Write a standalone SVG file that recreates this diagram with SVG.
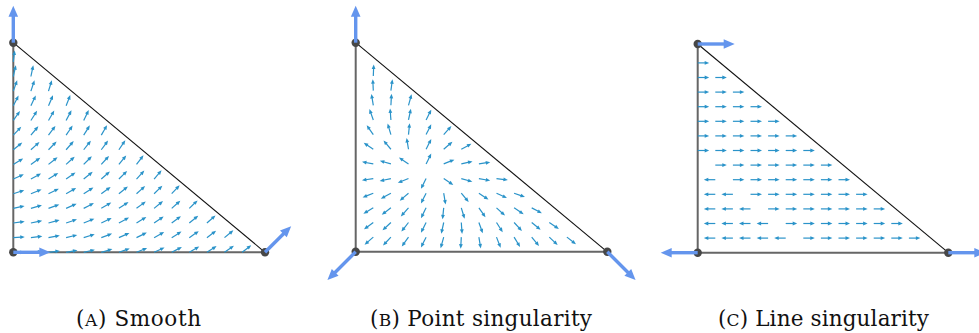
<svg xmlns="http://www.w3.org/2000/svg" width="979" height="333" viewBox="0 0 979 333">
<style>
.leg{stroke:#666;stroke-width:2;fill:none}
.hyp{stroke:#111;stroke-width:1.1;fill:none}
.q path{fill:none;stroke:none;marker-start:url(#q)}
.dot{fill:#474747}
.lbl{font-family:"DejaVu Serif","Liberation Serif",serif;font-size:21.5px;fill:#111;text-anchor:middle}
.sc{font-size:17px}
</style>
<defs>
<marker id="q" markerUnits="userSpaceOnUse" markerWidth="12" markerHeight="6" refX="0" refY="3" orient="auto" overflow="visible">
<path d="M0 3H8" stroke="#2a93c9" stroke-width="1.2"/>
<path d="M7 1.1L11.5 3L7 4.9z" fill="#2a93c9"/>
</marker>
<g id="big"><path d="M0 0H27" stroke="#6495ed" stroke-width="3.4"/><path d="M26 -4.8L37 0L26 4.8z" fill="#6495ed"/></g>
<g id="big2"><path d="M0 0H30" stroke="#6495ed" stroke-width="3.4"/><path d="M29 -4.8L40 0L29 4.8z" fill="#6495ed"/></g>
</defs>

<g id="panel-a">
<path class="leg" d="M13.3 42.7V252.3H265"/>
<path class="hyp" d="M13.3 42.7L265 252.3"/>
<g class="q" transform="translate(13.3,252.3)">
<g><path d="M0 0l100 0"/><path d="M17.6 0l100 -6"/><path d="M35.2 0l100 -12"/><path d="M52.8 0l100 -17"/><path d="M70.4 0l100 -23"/><path d="M88 0l100 -29"/><path d="M105.6 0l100 -35"/><path d="M123.2 0l100 -41"/><path d="M140.8 0l100 -46"/><path d="M158.4 0l100 -52"/><path d="M176 0l100 -58"/><path d="M193.6 0l100 -64"/><path d="M211.2 0l100 -70"/><path d="M228.8 0l100 -76"/></g>
<g transform="translate(0,-14.65)"><path d="M0 0l93 -6"/><path d="M17.6 0l93 -12"/><path d="M35.2 0l93 -17"/><path d="M52.8 0l93 -23"/><path d="M70.4 0l93 -29"/><path d="M88 0l93 -35"/><path d="M105.6 0l93 -41"/><path d="M123.2 0l93 -46"/><path d="M140.8 0l93 -52"/><path d="M158.4 0l93 -58"/><path d="M176 0l93 -64"/><path d="M193.6 0l93 -70"/><path d="M211.2 0l93 -76"/></g>
<g transform="translate(0,-29.3)"><path d="M0 0l86 -12"/><path d="M17.6 0l86 -17"/><path d="M35.2 0l86 -23"/><path d="M52.8 0l86 -29"/><path d="M70.4 0l86 -35"/><path d="M88 0l86 -41"/><path d="M105.6 0l86 -46"/><path d="M123.2 0l86 -52"/><path d="M140.8 0l86 -58"/><path d="M158.4 0l86 -64"/><path d="M176 0l86 -70"/><path d="M193.6 0l86 -76"/></g>
<g transform="translate(0,-43.95)"><path d="M0 0l79 -17"/><path d="M17.6 0l79 -23"/><path d="M35.2 0l79 -29"/><path d="M52.8 0l79 -35"/><path d="M70.4 0l79 -41"/><path d="M88 0l79 -46"/><path d="M105.6 0l79 -52"/><path d="M123.2 0l79 -58"/><path d="M140.8 0l79 -64"/><path d="M158.4 0l79 -70"/><path d="M176 0l79 -76"/></g>
<g transform="translate(0,-58.6)"><path d="M0 0l72 -23"/><path d="M17.6 0l72 -29"/><path d="M35.2 0l72 -35"/><path d="M52.8 0l72 -41"/><path d="M70.4 0l72 -46"/><path d="M88 0l72 -52"/><path d="M105.6 0l72 -58"/><path d="M123.2 0l72 -64"/><path d="M140.8 0l72 -70"/><path d="M158.4 0l72 -76"/></g>
<g transform="translate(0,-73.25)"><path d="M0 0l65 -29"/><path d="M17.6 0l65 -35"/><path d="M35.2 0l65 -41"/><path d="M52.8 0l65 -46"/><path d="M70.4 0l65 -52"/><path d="M88 0l65 -58"/><path d="M105.6 0l65 -64"/><path d="M123.2 0l65 -70"/><path d="M140.8 0l65 -76"/></g>
<g transform="translate(0,-87.9)"><path d="M0 0l58 -35"/><path d="M17.6 0l58 -41"/><path d="M35.2 0l58 -46"/><path d="M52.8 0l58 -52"/><path d="M70.4 0l58 -58"/><path d="M88 0l58 -64"/><path d="M105.6 0l58 -70"/><path d="M123.2 0l58 -76"/></g>
<g transform="translate(0,-102.55)"><path d="M0 0l51 -41"/><path d="M17.6 0l51 -46"/><path d="M35.2 0l51 -52"/><path d="M52.8 0l51 -58"/><path d="M70.4 0l51 -64"/><path d="M88 0l51 -70"/><path d="M105.6 0l51 -76"/></g>
<g transform="translate(0,-117.2)"><path d="M0 0l44 -46"/><path d="M17.6 0l44 -52"/><path d="M35.2 0l44 -58"/><path d="M52.8 0l44 -64"/><path d="M70.4 0l44 -70"/><path d="M88 0l44 -76"/></g>
<g transform="translate(0,-131.85)"><path d="M0 0l37 -52"/><path d="M17.6 0l37 -58"/><path d="M35.2 0l37 -64"/><path d="M52.8 0l37 -70"/><path d="M70.4 0l37 -76"/></g>
<g transform="translate(0,-146.5)"><path d="M0 0l30 -58"/><path d="M17.6 0l30 -64"/><path d="M35.2 0l30 -70"/><path d="M52.8 0l30 -76"/></g>
<g transform="translate(0,-161.15)"><path d="M0 0l23 -64"/><path d="M17.6 0l23 -70"/><path d="M35.2 0l23 -76"/></g>
<g transform="translate(0,-175.8)"><path d="M0 0l16 -70"/><path d="M17.6 0l16 -76"/></g>
<g transform="translate(0,-190.45)"><path d="M0 0l9 -76"/></g>
</g>
<g id="a-vertex-origin"><circle class="dot" cx="13.3" cy="252.3" r="4.2"/><use href="#big" transform="translate(13.3,252.3)"/></g>
<g id="a-vertex-top"><circle class="dot" cx="13.3" cy="42.7" r="4.2"/><use href="#big" transform="translate(13.3,42.7) rotate(-90)"/></g>
<g id="a-vertex-right"><circle class="dot" cx="265" cy="252.3" r="4.2"/><use href="#big" transform="translate(265,252.3) rotate(-45)"/></g>
</g>

<g id="panel-b">
<path class="leg" d="M355.7 42.7V251.8H607.3"/>
<path class="hyp" d="M355.7 42.7L607.3 251.8"/>
<g class="q" transform="translate(355.7,251.8)">
<g transform="translate(0,-14.65)"><path d="M17.6 0l-21 18"/><path d="M35.2 0l-17 18"/><path d="M52.8 0l-13 18"/><path d="M70.4 0l-9 18"/><path d="M88 0l-5 18"/><path d="M105.6 0l-1 18"/><path d="M123.2 0l3 18"/><path d="M140.8 0l7 18"/><path d="M158.4 0l11 18"/><path d="M176 0l15 18"/><path d="M193.6 0l19 18"/><path d="M211.2 0l23 18"/></g>
<g transform="translate(0,-29.3)"><path d="M17.6 0l-19 14"/><path d="M35.2 0l-15 14"/><path d="M52.8 0l-11 14"/><path d="M70.4 0l-7 14"/><path d="M88 0l-3 14"/><path d="M105.6 0l1 14"/><path d="M123.2 0l5 14"/><path d="M140.8 0l9 14"/><path d="M158.4 0l13 14"/><path d="M176 0l17 14"/><path d="M193.6 0l21 14"/></g>
<g transform="translate(0,-43.95)"><path d="M17.6 0l-17 10"/><path d="M35.2 0l-13 10"/><path d="M52.8 0l-9 10"/><path d="M70.4 0l-5 10"/><path d="M88 0l-1 10"/><path d="M105.6 0l3 10"/><path d="M123.2 0l7 10"/><path d="M140.8 0l11 10"/><path d="M158.4 0l15 10"/><path d="M176 0l19 10"/></g>
<g transform="translate(0,-58.6)"><path d="M17.6 0l-15 6"/><path d="M35.2 0l-11 6"/><path d="M52.8 0l-7 6"/><path d="M70.4 0l-3 6"/><path d="M88 0l1 6"/><path d="M105.6 0l5 6"/><path d="M123.2 0l9 6"/><path d="M140.8 0l13 6"/><path d="M158.4 0l17 6"/></g>
<g transform="translate(0,-73.25)"><path d="M17.6 0l-13 2"/><path d="M35.2 0l-9 2"/><path d="M52.8 0l-5 2"/><path d="M70.4 0l-1 2"/><path d="M88 0l3 2"/><path d="M105.6 0l7 2"/><path d="M123.2 0l11 2"/><path d="M140.8 0l15 2"/></g>
<g transform="translate(0,-87.9)"><path d="M17.6 0l-11 -2"/><path d="M35.2 0l-7 -2"/><path d="M52.8 0l-3 -2"/><path d="M70.4 0l1 -2"/><path d="M88 0l5 -2"/><path d="M105.6 0l9 -2"/><path d="M123.2 0l13 -2"/></g>
<g transform="translate(0,-102.55)"><path d="M17.6 0l-9 -6"/><path d="M35.2 0l-5 -6"/><path d="M52.8 0l-1 -6"/><path d="M70.4 0l3 -6"/><path d="M88 0l7 -6"/><path d="M105.6 0l11 -6"/></g>
<g transform="translate(0,-117.2)"><path d="M17.6 0l-7 -10"/><path d="M35.2 0l-3 -10"/><path d="M52.8 0l1 -10"/><path d="M70.4 0l5 -10"/><path d="M88 0l9 -10"/></g>
<g transform="translate(0,-131.85)"><path d="M17.6 0l-5 -14"/><path d="M35.2 0l-1 -14"/><path d="M52.8 0l3 -14"/><path d="M70.4 0l7 -14"/></g>
<g transform="translate(0,-146.5)"><path d="M17.6 0l-3 -18"/><path d="M35.2 0l1 -18"/><path d="M52.8 0l5 -18"/></g>
<g transform="translate(0,-161.15)"><path d="M17.6 0l-1 -22"/><path d="M35.2 0l3 -22"/></g>
<g transform="translate(0,-175.8)"><path d="M17.6 0l1 -26"/></g>
</g>
<g id="b-vertex-origin"><circle class="dot" cx="355.7" cy="251.8" r="4.2"/><use href="#big2" transform="translate(355.7,251.8) rotate(135)"/></g>
<g id="b-vertex-top"><circle class="dot" cx="355.7" cy="42.7" r="4.2"/><use href="#big" transform="translate(355.7,42.7) rotate(-90)"/></g>
<g id="b-vertex-right"><circle class="dot" cx="607.3" cy="251.8" r="4.2"/><use href="#big2" transform="translate(607.3,251.8) rotate(45)"/></g>
</g>

<g id="panel-c">
<path class="leg" d="M697.7 44V252.7H948.3"/>
<path class="hyp" d="M697.7 44L948.3 252.7"/>
<g class="q" transform="translate(697.7,252.7)">
<g transform="translate(0,-14.6)"><path d="M17.6 0l-1 0"/><path d="M35.2 0l-1 0"/><path d="M52.8 0l-1 0"/><path d="M70.4 0l-1 0"/><path d="M88 0l-1 0"/><path d="M105.6 0l1 0"/><path d="M123.2 0l1 0"/><path d="M140.8 0l1 0"/><path d="M158.4 0l1 0"/><path d="M176 0l1 0"/><path d="M193.6 0l1 0"/><path d="M211.2 0l1 0"/></g>
<g transform="translate(0,-29.2)"><path d="M17.6 0l-1 0"/><path d="M35.2 0l-1 0"/><path d="M52.8 0l-1 0"/><path d="M70.4 0l-1 0"/><path d="M88 0l1 0"/><path d="M105.6 0l1 0"/><path d="M123.2 0l1 0"/><path d="M140.8 0l1 0"/><path d="M158.4 0l1 0"/><path d="M176 0l1 0"/><path d="M193.6 0l1 0"/></g>
<g transform="translate(0,-43.8)"><path d="M17.6 0l-1 0"/><path d="M35.2 0l-1 0"/><path d="M52.8 0l-1 0"/><path d="M70.4 0l1 0"/><path d="M88 0l1 0"/><path d="M105.6 0l1 0"/><path d="M123.2 0l1 0"/><path d="M140.8 0l1 0"/><path d="M158.4 0l1 0"/><path d="M176 0l1 0"/></g>
<g transform="translate(0,-58.4)"><path d="M17.6 0l-1 0"/><path d="M35.2 0l-1 0"/><path d="M52.8 0l1 0"/><path d="M70.4 0l1 0"/><path d="M88 0l1 0"/><path d="M105.6 0l1 0"/><path d="M123.2 0l1 0"/><path d="M140.8 0l1 0"/><path d="M158.4 0l1 0"/></g>
<g transform="translate(0,-73)"><path d="M17.6 0l-1 0"/><path d="M35.2 0l1 0"/><path d="M52.8 0l1 0"/><path d="M70.4 0l1 0"/><path d="M88 0l1 0"/><path d="M105.6 0l1 0"/><path d="M123.2 0l1 0"/><path d="M140.8 0l1 0"/></g>
<g transform="translate(0,-87.6)"><path d="M17.6 0l1 0"/><path d="M35.2 0l1 0"/><path d="M52.8 0l1 0"/><path d="M70.4 0l1 0"/><path d="M88 0l1 0"/><path d="M105.6 0l1 0"/><path d="M123.2 0l1 0"/></g>
<g transform="translate(0,-102.2)"><path d="M0 0l1 0"/><path d="M17.6 0l1 0"/><path d="M35.2 0l1 0"/><path d="M52.8 0l1 0"/><path d="M70.4 0l1 0"/><path d="M88 0l1 0"/><path d="M105.6 0l1 0"/></g>
<g transform="translate(0,-116.8)"><path d="M0 0l1 0"/><path d="M17.6 0l1 0"/><path d="M35.2 0l1 0"/><path d="M52.8 0l1 0"/><path d="M70.4 0l1 0"/><path d="M88 0l1 0"/></g>
<g transform="translate(0,-131.4)"><path d="M0 0l1 0"/><path d="M17.6 0l1 0"/><path d="M35.2 0l1 0"/><path d="M52.8 0l1 0"/><path d="M70.4 0l1 0"/></g>
<g transform="translate(0,-146)"><path d="M0 0l1 0"/><path d="M17.6 0l1 0"/><path d="M35.2 0l1 0"/><path d="M52.8 0l1 0"/></g>
<g transform="translate(0,-160.6)"><path d="M0 0l1 0"/><path d="M17.6 0l1 0"/><path d="M35.2 0l1 0"/></g>
<g transform="translate(0,-175.2)"><path d="M0 0l1 0"/><path d="M17.6 0l1 0"/></g>
<g transform="translate(0,-189.8)"><path d="M0 0l1 0"/></g>
</g>
<g id="c-vertex-origin"><circle class="dot" cx="697.7" cy="252.7" r="4.2"/><use href="#big" transform="translate(697.7,252.7) rotate(180)"/></g>
<g id="c-vertex-top"><circle class="dot" cx="697.7" cy="44" r="4.2"/><use href="#big" transform="translate(697.7,44)"/></g>
<g id="c-vertex-right"><circle class="dot" cx="948.3" cy="252.7" r="4.2"/><use href="#big" transform="translate(948.3,252.7)"/></g>
</g>

<g id="captions">
<text class="lbl" x="138.5" y="326" textLength="125">(<tspan class="sc">A</tspan>) Smooth</text>
<text class="lbl" x="481" y="326" textLength="222">(<tspan class="sc">B</tspan>) Point singularity</text>
<text class="lbl" x="823.5" y="326" textLength="211">(<tspan class="sc">C</tspan>) Line singularity</text>
</g>
</svg>
